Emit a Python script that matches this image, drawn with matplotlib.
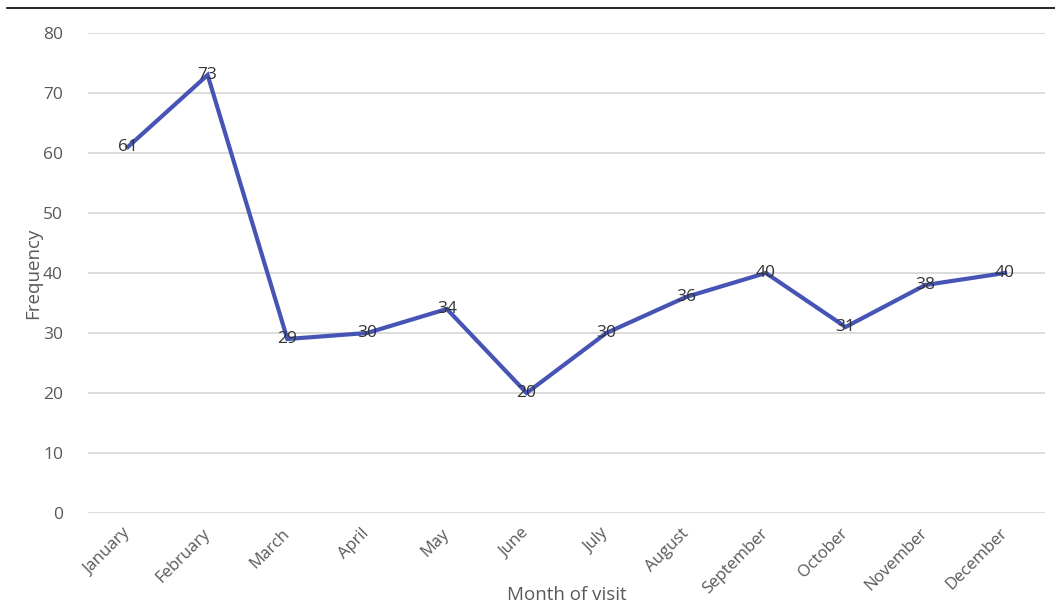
import matplotlib.pyplot as plt
from matplotlib.lines import Line2D

months = ["January", "February", "March", "April", "May", "June",
          "July", "August", "September", "October", "November", "December"]
visits = [61, 73, 29, 30, 34, 20, 30, 36, 40, 31, 38, 40]
yticks = [0, 10, 20, 30, 40, 50, 60, 70, 80]

plt.rcParams["font.family"] = ["Open Sans", "DejaVu Sans"]

fig = plt.figure(figsize=(10.55, 6.14), dpi=100)
ax = fig.add_axes([0.0834, 0.1645, 0.9071, 0.7818])

x = list(range(len(months)))
ax.plot(x, visits, color="#4655B5", linewidth=3.0, solid_joinstyle="miter", zorder=3)
for xi, v in zip(x, visits):
    ax.text(xi, v, str(v), ha="center", va="center", fontsize=12.5,
            color="#333333", zorder=4)

ax.set_xlim(-0.5, len(months) - 0.5)
ax.set_ylim(0, 80)
ax.set_yticks(yticks)
ax.set_xticks(x)
ax.set_xticklabels(months, rotation=45, ha="right", va="center",
                   rotation_mode="anchor", fontsize=12, color="#595959")
ax.tick_params(axis="y", labelsize=12.5, colors="#595959", length=0, pad=18)
ax.tick_params(axis="x", length=0, pad=13)
ax.grid(axis="y", color="#D9D9D9", linewidth=1.3)
ax.set_axisbelow(True)
for s in ax.spines.values():
    s.set_visible(False)

ax.set_xlabel("Month of visit", fontsize=13.5, color="#595959")
ax.set_ylabel("Frequency", fontsize=13.5, color="#595959")
ax.xaxis.set_label_coords(0.5, -0.171)
ax.yaxis.set_label_coords(-0.0575, 0.5)
ax.xaxis.label.set_va("center")
ax.yaxis.label.set_va("center")

# thin rule across the top of the figure
fig.add_artist(Line2D([0.0066, 1.0], [0.987, 0.987], color="black", linewidth=1.2))

fig.savefig("out.png", dpi=100)
